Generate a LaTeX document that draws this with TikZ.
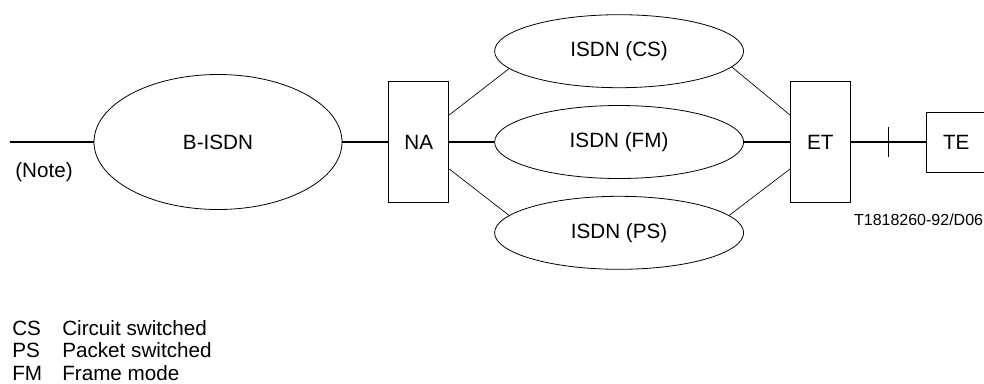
\documentclass[tikz,border=0pt]{standalone}
\usepackage{fontspec}
\setmainfont{Liberation Sans}
\usetikzlibrary{positioning,shapes.geometric,calc}

\begin{document}
\begin{tikzpicture}[font=\fontsize{15.5}{18}\selectfont,
                    netcloud/.style={draw,line width=0.6pt,ellipse,inner sep=0pt,
                                     minimum width=186.75pt,minimum height=54.75pt},
                    unitbox/.style={draw,line width=0.6pt,rectangle,inner sep=0pt,
                                    minimum width=45pt,minimum height=90.75pt},
                    plaintext/.style={inner sep=0pt,anchor=base west},
                    trunk/.style={line width=1.2pt},
                    branch/.style={line width=0.5pt}]

  \useasboundingbox (0,0) rectangle (738pt,-287.25pt);

  \coordinate (in) at (7.5pt,-106.5pt);
  \node[netcloud,minimum width=186pt,minimum height=101.25pt]
                       (bisdn) at (163.5pt,-106.5pt) {B-ISDN};
  \node[unitbox]       (na) [right=34.5pt of bisdn]  {NA};
  \node[netcloud]      (fm) [right=33.75pt of na]    {ISDN (FM)};
  \node[netcloud]      (cs) [above=12.75pt of fm]    {ISDN (CS)};
  \node[netcloud]      (ps) [below=12.75pt of fm]    {ISDN (PS)};
  \node[unitbox]       (et) [right=34.5pt of fm]     {ET};
  \node[unitbox,minimum height=45pt]
                       (te) [right=56.25pt of et]    {TE};
  \coordinate (tick) at ($(et.east)!0.5!(te.west)$);

  \node[plaintext] (note) at (11.25pt,-133pt) {(Note)};
  \node[plaintext,anchor=base east,font=\fontsize{12}{14}\selectfont]
                   (ref) at (737.5pt,-168.75pt) {T1818260-92/D06};

  % main path
  \draw[trunk] (in) -- (bisdn.west);
  \draw[trunk] (bisdn.east) -- (na.west);
  \draw[trunk] (na.east) -- (fm.west);
  \draw[trunk] (fm.east) -- (et.west);
  \draw[trunk] (et.east) -- (te.west);
  \draw[branch,line width=0.6pt] ([yshift=11pt]tick) -- ([yshift=-11pt]tick);

  % side networks
  \draw[branch] ([yshift=20.25pt]na.east) -- (cs.189);
  \draw[branch] (cs.352) -- ([yshift=20.25pt]et.west);
  \draw[branch] ([yshift=-20.25pt]na.east) -- (ps.171);
  \draw[branch] (ps.9) -- ([yshift=-20.25pt]et.west);

  % legend
  \node[plaintext] (kcs) at (9pt,-251.25pt)  {CS};
  \node[plaintext] (kps) at (9pt,-268.25pt)  {PS};
  \node[plaintext] (kfm) at (9pt,-285.25pt)  {FM};
  \node[plaintext] (dcs) at (46.5pt,-251.25pt) {Circuit switched};
  \node[plaintext] (dps) at (46.5pt,-268.25pt) {Packet switched};
  \node[plaintext] (dfm) at (46.5pt,-285.25pt) {Frame mode};
\end{tikzpicture}
\end{document}
